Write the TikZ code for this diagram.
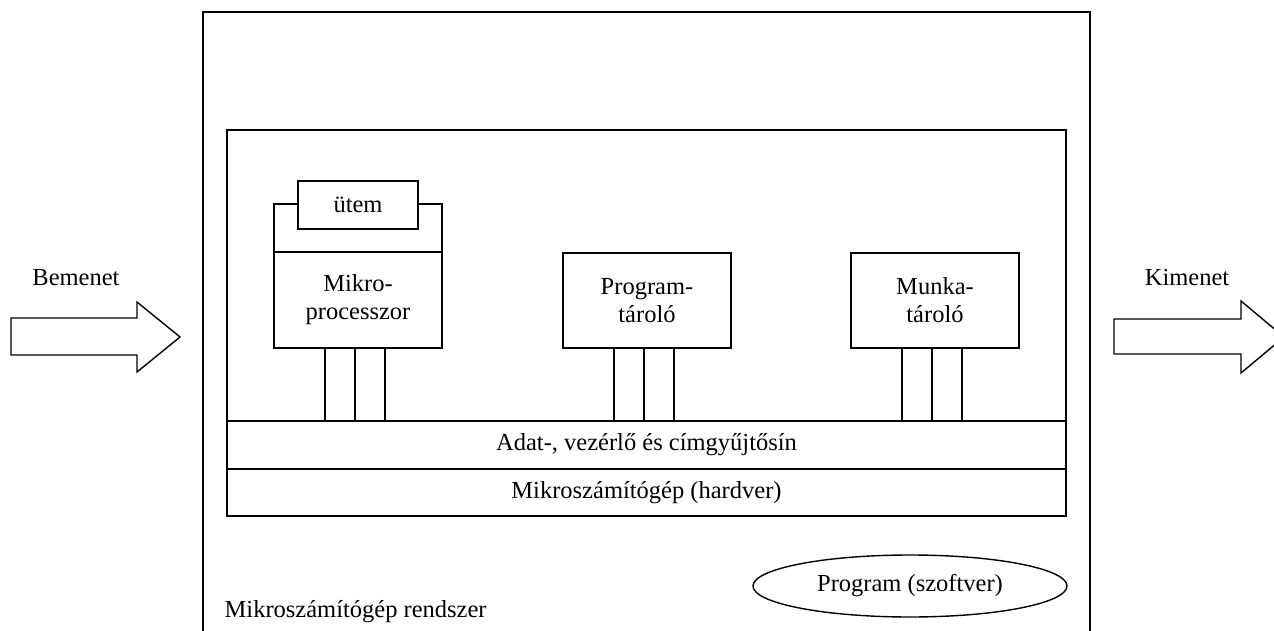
\documentclass[tikz,border=0pt]{standalone}
\usepackage{fontspec}
\setmainfont{Liberation Serif}
\usetikzlibrary{shapes.geometric}
\begin{document}
\begin{tikzpicture}[x=1pt,y=-1pt,line width=1.4pt,
  every node/.style={font=\fontsize{24.5}{28}\selectfont, inner sep=0pt},
  box/.style={draw, rectangle, fill=white, align=center},
  lbl/.style={align=center}]
\useasboundingbox (0,0) rectangle (1274,631);
% outer system box (bottom edge lies below the picture)
\draw (203,12) rectangle (1090,660);
\node[anchor=west] (sys) at (224,612) {Mikroszámítógép rendszer};
% inner hardware box
\node[box, minimum width=839, minimum height=386] (hw) at (646.5,323) {};
\node[box, minimum width=839, minimum height=48] (bus) at (646.5,445) {Adat-, vezérlő és címgyűjtősín};
\node[box, minimum width=839, minimum height=47] (hwl) at (646.5,492.5) {Mikroszámítógép (hardver)};
% processor with clock
\node[box, minimum width=168, minimum height=48] (frame) at (358,228) {};
\node[box, minimum width=168, minimum height=96] (cpu) at (358,300) {Mikro-\\processzor};
\node[box, minimum width=120, minimum height=48] (clk) at (358,205) {ütem};
% memories
\node[box, minimum width=168, minimum height=95] (prog) at (647,300.5) {Program-\\tároló};
\node[box, minimum width=168, minimum height=95] (mem) at (935,300.5) {Munka-\\tároló};
% bus connections
\foreach \n in {cpu,prog,mem}{
  \foreach \d in {-33,-3,27}{
    \draw ([xshift=\d pt]\n.south) -- ([xshift=\d pt]\n.south |- bus.north);
  }
}
% software ellipse
\node[draw, ellipse, minimum width=314, minimum height=62] (sw) at (910,586) {Program (szoftver)};
% input / output
\node (in) at (76,278) {Bemenet};
\node (out) at (1187,278) {Kimenet};
\draw (11,318) -- (137,318) -- (137,302) -- (180,337) -- (137,372) -- (137,355) -- (11,355) -- cycle;
\draw (1114,319) -- (1241,319) -- (1241,301) -- (1284,337) -- (1241,373) -- (1241,354) -- (1114,354) -- cycle;
\end{tikzpicture}
\end{document}
